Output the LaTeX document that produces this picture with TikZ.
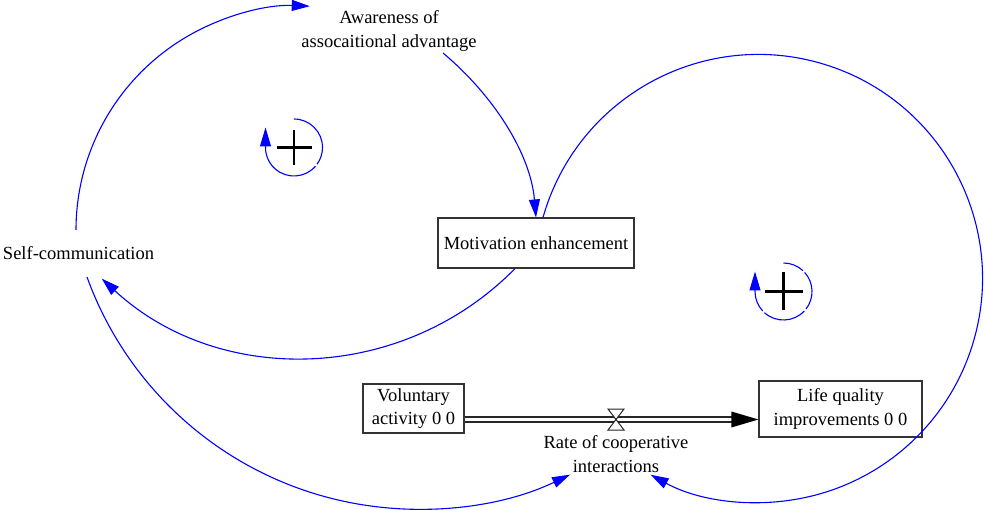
\documentclass[tikz,border=0pt]{standalone}
\usepackage{fontspec}
\setmainfont{Liberation Serif}
\usetikzlibrary{arrows.meta}
\begin{document}
\begin{tikzpicture}[x=1pt,y=1pt,
  every node/.style={font=\fontsize{18.5}{23.5}\selectfont, text=black, align=center},
  box/.style={draw=black!80, line width=1.1pt, inner sep=0pt},
  link/.style={draw=blue, line width=1.1pt, -{Triangle[length=18pt,width=11pt]}},
  arcline/.style={draw=blue, line width=1.1pt},
  plusmark/.style={draw=black, line width=2.8pt},
  pipe/.style={draw=black!85, double=white, double distance=3.8pt, line width=1.2pt}
]
\useasboundingbox (0,0) rectangle (985,-510);

% nodes
\node[box, minimum width=196pt, minimum height=50pt] (mot) at (536,-243) {Motivation enhancement};
\node[box, minimum width=101pt, minimum height=49pt] (vol) at (413.5,-408.5) {Voluntary\\activity 0 0};
\node[box, minimum width=163pt, minimum height=56pt] (life) at (840.5,-409) {Life quality\\improvements 0 0};
\node (aware) at (389,-31) {Awareness of\\assocaitional advantage};
\node (self) at (78.5,-253) {Self-communication};
\node (rate) at (616,-454) {Rate of cooperative\\interactions};
\coordinate (valve) at (616,-419.5);
\coordinate (loopL) at (294,-147.5);
\coordinate (loopR) at (783.5,-291.5);

% causal links
\draw[link] ([shift={(-2.5,23)}]self.center) arc[start angle=180, end angle=87.5, radius=224];
\draw[link] ([shift={(54,-22)}]aware.center) .. controls +(-40:65) and +(95:65) .. (mot.north);
\draw[link] ([xshift=-21pt]mot.south) arc[start angle=-44.5, end angle=-132.7, radius=297];
\draw[link] ([shift={(8.5,-24)}]self.center) arc[start angle=-160.1, end angle=-64.4, radius=352];
\draw[link] ([xshift=7pt]mot.north) arc[start angle=164.2, end angle=-118.8, radius=224];

% flow pipe
\draw[pipe] (vol.east |- valve) -- ([xshift=-26pt]life.west |- valve);
\fill[black] (life.west |- valve) -- ++(-27,8) -- ++(0,-16) -- cycle;
\filldraw[fill=white, draw=black!85, line width=1pt] ([shift={(-8,10.5)}]valve) -- ++(16,0) -- ++(-16,-21) -- ++(16,0) -- cycle;

% loop markers
\draw[arcline] ([yshift=28.5pt]loopL) arc[start angle=90, end angle=-36, radius=28.5];
\draw[arcline, -{Triangle[length=19pt,width=11pt]}] ([shift={(-41:28.5)}]loopL) arc[start angle=-41, end angle=-180, radius=28.5] -- ++(0,20);
\draw[plusmark] ([xshift=-17.5pt]loopL) -- ([xshift=17.5pt]loopL) ([yshift=17.5pt]loopL) -- ([yshift=-17.5pt]loopL);

\draw[arcline] ([yshift=28.5pt]loopR) arc[start angle=90, end angle=47, radius=28.5];
\draw[arcline] ([shift={(42:28.5)}]loopR) arc[start angle=42, end angle=-38, radius=28.5];
\draw[arcline] ([shift={(-43:28.5)}]loopR) arc[start angle=-43, end angle=-132, radius=28.5];
\draw[arcline, -{Triangle[length=19pt,width=11pt]}] ([shift={(-137:28.5)}]loopR) arc[start angle=-137, end angle=-180, radius=28.5] -- ++(0,20);
\draw[plusmark] ([xshift=-19pt]loopR) -- ([xshift=19pt]loopR) ([yshift=19pt]loopR) -- ([yshift=-19pt]loopR);
\end{tikzpicture}
\end{document}
